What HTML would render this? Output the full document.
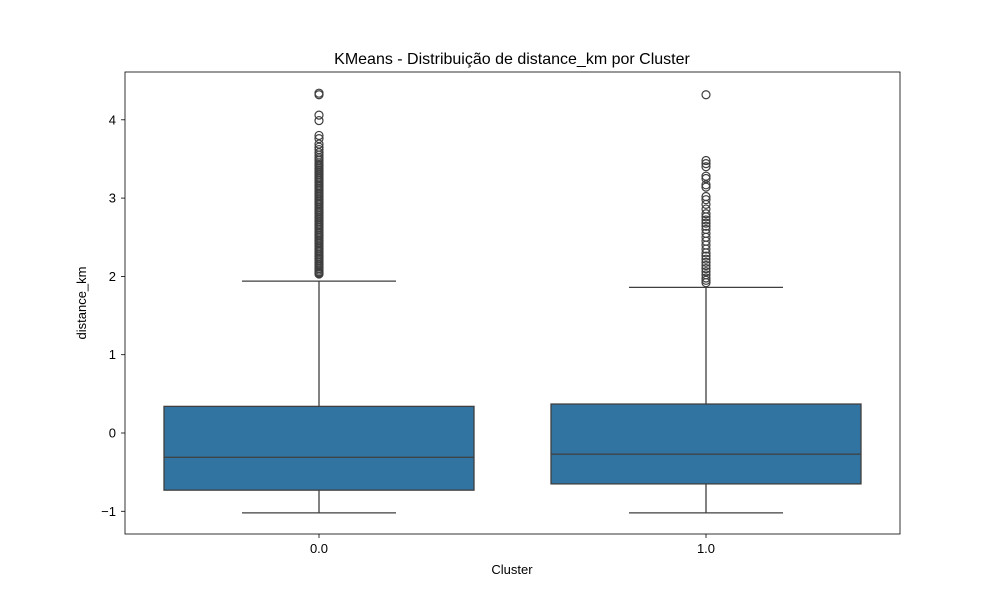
<!DOCTYPE html>
<html><head><meta charset="utf-8"><style>
body{margin:0;background:#fff}
text{font-family:"Liberation Sans","DejaVu Sans",sans-serif;fill:#000}
</style></head><body>
<svg id="chart" width="1000" height="600" xmlns="http://www.w3.org/2000/svg">
<rect width="1000" height="600" fill="#fff"/>
<text x="512" y="64" font-size="16" text-anchor="middle">KMeans - Distribuição de distance_km por Cluster</text>
<g id="plot"></g>
<rect x="125" y="72" width="775" height="462" fill="none" stroke="#000" stroke-width="0.8"/>
<text x="512" y="574" font-size="13" text-anchor="middle">Cluster</text>
<text x="86" y="303" font-size="13" text-anchor="middle" transform="rotate(-90 86 303)">distance_km</text>
</svg>
<script>
const categories=["0.0","1.0"];
const q1=[-0.73,-0.65];
const medians=[-0.31,-0.27];
const q3=[0.34,0.37];
const whiskerLow=[-1.02,-1.02];
const whiskerHigh=[1.94,1.86];
const outliers0=[4.34,4.32,4.06,3.99,3.80,3.76,3.69,3.65,3.62,3.58,3.55,3.52,3.50,3.48,3.45,3.43,3.42,3.40,3.38,3.36,3.35,3.33,3.32,3.30,3.28,3.26,3.25,3.23,3.22,3.20,3.18,3.16,3.15,3.13,3.12,3.10,3.08,3.06,3.05,3.03,3.02,3.00,2.98,2.96,2.95,2.93,2.92,2.90,2.88,2.86,2.85,2.83,2.82,2.80,2.78,2.76,2.75,2.73,2.72,2.70,2.68,2.66,2.65,2.63,2.62,2.60,2.58,2.56,2.55,2.53,2.52,2.50,2.48,2.46,2.45,2.43,2.42,2.40,2.38,2.36,2.35,2.33,2.32,2.30,2.28,2.26,2.25,2.23,2.22,2.20,2.18,2.16,2.15,2.13,2.12,2.10,2.08,2.06,2.05,2.04,2.03];
const outliers1=[4.32,3.48,3.44,3.40,3.28,3.25,3.17,3.14,3.02,2.98,2.92,2.86,2.80,2.76,2.72,2.68,2.64,2.60,2.55,2.50,2.45,2.40,2.35,2.30,2.26,2.22,2.18,2.14,2.10,2.06,2.02,1.98,1.95,1.92];
const outliers=[outliers0,outliers1];
const yTicks=[-1,0,1,2,3,4];
const y=v=>433-78.3*v;
const x=i=>319+387*i;
const NS="http://www.w3.org/2000/svg";
const g=document.getElementById('plot');
function mk(tag,attrs){const e=document.createElementNS(NS,tag);for(const k in attrs)e.setAttribute(k,attrs[k]);g.appendChild(e);return e;}
yTicks.forEach(t=>{
  const tk=mk('line',{x1:121,x2:125,y1:y(t),y2:y(t),stroke:'#000','stroke-width':0.8});
  
  
  const lb=mk('text',{x:116,y:y(t)+4.5,'font-size':13,'text-anchor':'end'});
  lb.textContent=t<0?'\u2212'+Math.abs(t):String(t);
  
  
});
categories.forEach((c,i)=>{
  const cx=x(i);
  const tk=mk('line',{x1:cx,x2:cx,y1:534,y2:538,stroke:'#000','stroke-width':0.8});
  
  
  const lb=mk('text',{x:cx,y:553,'font-size':13,'text-anchor':'middle'});
  lb.textContent=c;
  
  
  const st={stroke:'#3f3f3f','stroke-width':1.3};
  const w1=mk('line',Object.assign({x1:cx,x2:cx,y1:y(q3[i]),y2:y(whiskerHigh[i])},st));
  
  
  const w2=mk('line',Object.assign({x1:cx,x2:cx,y1:y(q1[i]),y2:y(whiskerLow[i])},st));
  
  
  const c1=mk('line',Object.assign({x1:cx-77,x2:cx+77,y1:y(whiskerHigh[i]),y2:y(whiskerHigh[i])},st));
  
  
  const c2=mk('line',Object.assign({x1:cx-77,x2:cx+77,y1:y(whiskerLow[i]),y2:y(whiskerLow[i])},st));
  
  
  const b=mk('rect',{x:cx-155,width:310,y:y(q3[i]),height:y(q1[i])-y(q3[i]),fill:'#3274a1',stroke:'#3f3f3f','stroke-width':1.3});
  
  
  const m=mk('line',Object.assign({x1:cx-155,x2:cx+155,y1:y(medians[i]),y2:y(medians[i])},st));
  
  
  outliers[i].forEach(v=>{
    const o=mk('circle',{cx:cx,cy:y(v),r:4,fill:'none',stroke:'#3f3f3f','stroke-width':1.2});
    
    
  });
});
</script>
</body></html>
